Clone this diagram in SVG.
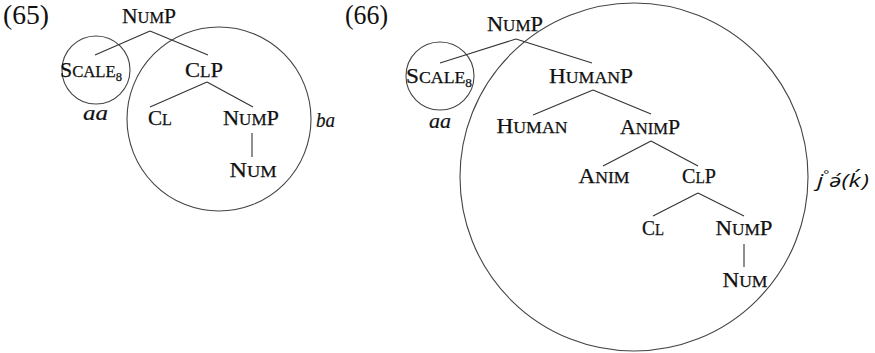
<svg xmlns="http://www.w3.org/2000/svg" width="875" height="353" viewBox="0 0 875 353">
<style>
  .n { font-family: "Liberation Serif", "Times New Roman", serif; font-size: 21px; fill: #111; stroke: #111; stroke-width: 0.25; }
  .sc { font-size: 16px; }
  .sub { font-size: 12px; }
  .ex { font-family: "Liberation Serif", "Times New Roman", serif; font-size: 27px; fill: #111; }
  .it { font-family: "Liberation Serif", "Times New Roman", serif; font-style: italic; font-size: 22px; fill: #111; stroke: #111; stroke-width: 0.2; }
  .its { font-family: "Open Sans", "Noto Sans", sans-serif; font-style: italic; font-size: 19px; fill: #111; }
  .edge { stroke: #333; stroke-width: 1.1; fill: none; }
  .ring { stroke: #444; stroke-width: 1.1; fill: none; }
</style>
<rect width="875" height="353" fill="#fff"/>

<!-- example numbers -->
<text id="ex65" class="ex" x="3" y="24" textLength="46" lengthAdjust="spacingAndGlyphs">(65)</text>
<text id="ex66" class="ex" x="345" y="24" textLength="43" lengthAdjust="spacingAndGlyphs">(66)</text>

<!-- circles -->
<g id="circles">
  <circle class="ring" cx="96" cy="70" r="34"/>
  <circle class="ring" cx="219" cy="119" r="92"/>
  <circle class="ring" cx="440" cy="76" r="34"/>
  <circle class="ring" cx="634" cy="177" r="174"/>
</g>

<!-- connectors -->
<g id="connectors">
  <line class="edge" x1="150" y1="31" x2="95" y2="55"/>
  <line class="edge" x1="150" y1="31" x2="208" y2="55"/>
  <line class="edge" x1="207" y1="82" x2="150" y2="107"/>
  <line class="edge" x1="207" y1="82" x2="253" y2="107"/>
  <line class="edge" x1="252" y1="133" x2="252" y2="157"/>

  <line class="edge" x1="516" y1="39" x2="440" y2="63"/>
  <line class="edge" x1="516" y1="39" x2="592" y2="63"/>
  <line class="edge" x1="593" y1="90" x2="533" y2="115"/>
  <line class="edge" x1="593" y1="90" x2="651" y2="114"/>
  <line class="edge" x1="651" y1="141" x2="603" y2="166"/>
  <line class="edge" x1="651" y1="141" x2="698" y2="166"/>
  <line class="edge" x1="698" y1="193" x2="653" y2="216"/>
  <line class="edge" x1="698" y1="193" x2="744" y2="216"/>
  <line class="edge" x1="744" y1="244" x2="744" y2="267"/>
</g>

<!-- tree (65) -->
<g id="t65-nump"><text class="n" x="149" y="23" text-anchor="middle" textLength="54" lengthAdjust="spacingAndGlyphs">N<tspan class="sc">UM</tspan>P</text></g>
<g id="t65-scale"><text class="n" x="60" y="77" textLength="62" lengthAdjust="spacingAndGlyphs">S<tspan class="sc">CALE</tspan><tspan class="sub" dy="4">8</tspan></text></g>
<g id="t65-clp"><text class="n" x="204" y="77" text-anchor="middle" textLength="38" lengthAdjust="spacingAndGlyphs">C<tspan class="sc">L</tspan>P</text></g>
<g id="t65-cl"><text class="n" x="160" y="125" text-anchor="middle" textLength="24" lengthAdjust="spacingAndGlyphs">C<tspan class="sc">L</tspan></text></g>
<g id="t65-nump2"><text class="n" x="251" y="125" text-anchor="middle" textLength="56" lengthAdjust="spacingAndGlyphs">N<tspan class="sc">UM</tspan>P</text></g>
<g id="t65-num"><text class="n" x="253" y="177" text-anchor="middle" textLength="47" lengthAdjust="spacingAndGlyphs">N<tspan class="sc">UM</tspan></text></g>
<g id="t65-aa"><text class="it" x="83" y="120" textLength="25" lengthAdjust="spacingAndGlyphs">aa</text></g>
<g id="t65-ba"><text class="it" x="316" y="127" textLength="19" lengthAdjust="spacingAndGlyphs">ba</text></g>

<!-- tree (66) -->
<g id="t66-nump"><text class="n" x="515" y="31" text-anchor="middle" textLength="56" lengthAdjust="spacingAndGlyphs">N<tspan class="sc">UM</tspan>P</text></g>
<g id="t66-scale"><text class="n" x="406" y="83" textLength="66" lengthAdjust="spacingAndGlyphs">S<tspan class="sc">CALE</tspan><tspan class="sub" dy="4">8</tspan></text></g>
<g id="t66-aa"><text class="it" x="429" y="128" textLength="22" lengthAdjust="spacingAndGlyphs">aa</text></g>
<g id="t66-humanp"><text class="n" x="591" y="83" text-anchor="middle" textLength="84" lengthAdjust="spacingAndGlyphs">H<tspan class="sc">UMAN</tspan>P</text></g>
<g id="t66-human"><text class="n" x="532" y="133" text-anchor="middle" textLength="71" lengthAdjust="spacingAndGlyphs">H<tspan class="sc">UMAN</tspan></text></g>
<g id="t66-animp"><text class="n" x="650" y="134" text-anchor="middle" textLength="60" lengthAdjust="spacingAndGlyphs">A<tspan class="sc">NIM</tspan>P</text></g>
<g id="t66-anim"><text class="n" x="604" y="183" text-anchor="middle" textLength="51" lengthAdjust="spacingAndGlyphs">A<tspan class="sc">NIM</tspan></text></g>
<g id="t66-clp"><text class="n" x="699" y="183" text-anchor="middle" textLength="34" lengthAdjust="spacingAndGlyphs">C<tspan class="sc">L</tspan>P</text></g>
<g id="t66-cl"><text class="n" x="653" y="235" text-anchor="middle" textLength="22" lengthAdjust="spacingAndGlyphs">C<tspan class="sc">L</tspan></text></g>
<g id="t66-nump2"><text class="n" x="744" y="235" text-anchor="middle" textLength="57" lengthAdjust="spacingAndGlyphs">N<tspan class="sc">UM</tspan>P</text></g>
<g id="t66-num"><text class="n" x="745" y="287" text-anchor="middle" textLength="45" lengthAdjust="spacingAndGlyphs">N<tspan class="sc">UM</tspan></text></g>
<g id="t66-label"><text class="its" x="817" y="187" textLength="52" lengthAdjust="spacingAndGlyphs">j<tspan font-size="11" dy="-9">°</tspan><tspan dy="9">ə́(k</tspan><tspan dx="1">´)</tspan></text></g>
</svg>
